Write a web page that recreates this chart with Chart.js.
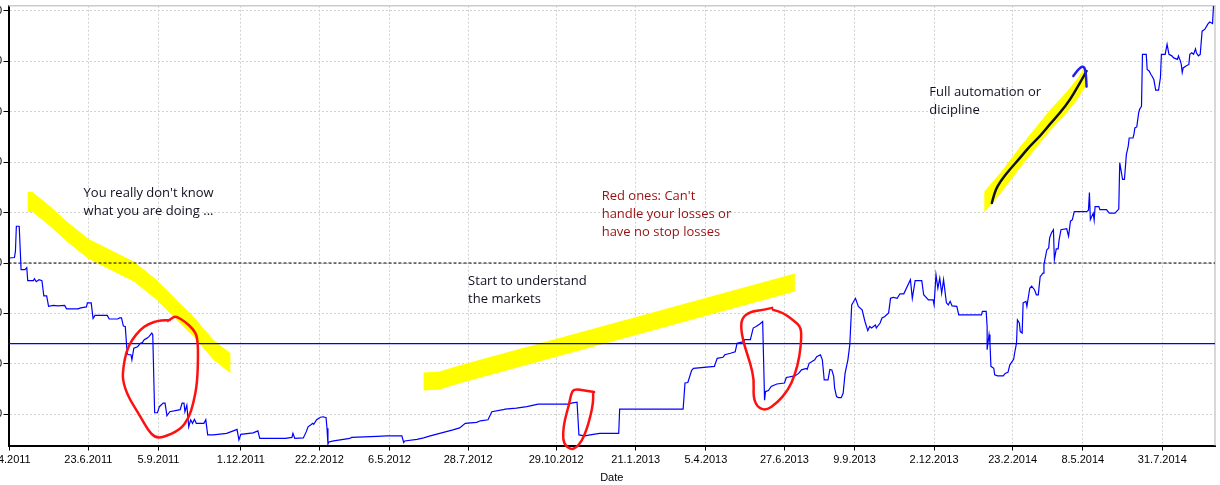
<!DOCTYPE html>
<html lang="en">
<head>
<meta charset="UTF-8">
<title>Equity curve</title>
<script src="https://cdn.jsdelivr.net/npm/chart.js"></script>
<style>
  html, body { margin: 0; padding: 0; background: #fff; overflow: hidden; }
  /* y tick labels sit off the left edge, like the cropped screenshot */
  #wrap { position: absolute; left: -52px; top: 0; width: 1272px; height: 485px; }
</style>
</head>
<body>
<div id="wrap"><canvas id="myChart" width="1272" height="485"></canvas></div>
<script>
// ---- data ----
// day numbers count from this date
var startDate = '1.4.2011';

var xTickLabels = ['1.4.2011', '23.6.2011', '5.9.2011', '1.12.2011', '22.2.2012', '6.5.2012',
    '28.7.2012', '29.10.2012', '21.1.2013', '5.4.2013', '27.6.2013', '9.9.2013',
    '2.12.2013', '23.2.2014', '8.5.2014', '31.7.2014'];

var yTicks = [7000, 8000, 9000, 10000, 11000, 12000, 13000, 14000, 15000];

var dayNumbers = [
    0, 5, 6, 7, 10, 12, 16, 18, 19, 25,
    26, 28, 31, 34, 36, 39, 41, 46, 51, 58,
    60, 72, 75, 81, 82, 86, 88, 90, 103, 105,
    114, 116, 118, 120, 122, 124, 125, 128, 129, 131,
    135, 138, 140, 142, 145, 147, 150, 151, 153, 156,
    158, 162, 164, 166, 169, 180, 182, 184, 185, 187,
    189, 191, 193, 195, 197, 205, 207, 209, 215, 229,
    236, 240, 242, 244, 257, 262, 264, 291, 298, 299,
    301, 310, 313, 315, 318, 320, 321, 324, 328, 331,
    334, 335, 336, 337, 342, 349, 359, 361, 388, 398,
    414, 416, 417, 430, 437, 444, 458, 468, 475, 481,
    493, 497, 505, 509, 521, 523, 535, 546, 558, 590,
    593, 599, 601, 607, 616, 623, 643, 644, 711, 713,
    716, 720, 722, 744, 747, 753, 755, 761, 766, 768,
    775, 776, 782, 785, 788, 792, 795, 797, 798, 801,
    804, 810, 818, 820, 829, 833, 836, 841, 842, 844,
    850, 852, 856, 858, 860, 864, 866, 868, 870, 871,
    873, 875, 878, 880, 882, 885, 887, 889, 893, 896,
    900, 903, 906, 908, 910, 914, 915, 919, 921, 924,
    928, 930, 933, 937, 940, 944, 951, 953, 956, 963,
    965, 970, 975, 976, 978, 980, 982, 984, 986, 989,
    991, 993, 995, 1000, 1002, 1026, 1027, 1031, 1032, 1032,
    1034, 1035, 1036, 1039, 1040, 1043, 1049, 1051, 1054, 1056,
    1060, 1061, 1063, 1064, 1066, 1067, 1069, 1070, 1073, 1074,
    1077, 1079, 1082, 1084, 1086, 1088, 1091, 1092, 1095, 1097,
    1098, 1100, 1102, 1103, 1105, 1107, 1108, 1110, 1116, 1118,
    1120, 1122, 1124, 1137, 1139, 1140, 1141, 1144, 1145, 1146,
    1150, 1151, 1158, 1161, 1167, 1171, 1172, 1175, 1177, 1179,
    1181, 1182, 1186, 1187, 1188, 1190, 1192, 1193, 1195, 1196,
    1200, 1201, 1203, 1205, 1206, 1208, 1210, 1213, 1215, 1216,
    1220, 1222, 1224, 1227, 1229, 1233, 1234, 1236, 1237, 1238,
    1239, 1242, 1245, 1246, 1248, 1250, 1252, 1253, 1255, 1257,
    1259, 1262, 1265, 1267, 1270, 1271
];

var equity = [
    10100, 10110, 10230, 10730, 10730, 9870, 9870, 9910, 9650, 9650,
    9690, 9630, 9670, 9650, 9350, 9350, 9140, 9160, 9150, 9160,
    9090, 9090, 9110, 9130, 9210, 9210, 8900, 8960, 8960, 8890,
    8890, 8910, 8910, 8750, 8740, 8210, 8180, 8180, 8080, 8310,
    8340, 8410, 8420, 8480, 8510, 8540, 8610, 8580, 7030, 7030,
    7150, 7220, 7220, 6970, 7050, 7090, 7220, 7220, 7050, 7180,
    6750, 6890, 6820, 6900, 6820, 6820, 6890, 6590, 6590, 6620,
    6670, 6700, 6490, 6600, 6630, 6670, 6520, 6520, 6540, 6620,
    6520, 6530, 6650, 6750, 6790, 6820, 6800, 6890, 6940, 6950,
    6930, 6720, 6410, 6450, 6470, 6490, 6520, 6540, 6560, 6570,
    6570, 6440, 6470, 6500, 6530, 6570, 6640, 6690, 6730, 6820,
    6840, 6870, 6890, 7050, 7090, 7100, 7120, 7150, 7200, 7200,
    7220, 7240, 6590, 6570, 6600, 6620, 6620, 7100, 7100, 7620,
    7630, 7870, 7910, 7950, 8110, 8130, 8180, 8210, 8240, 8410,
    8440, 8480, 8480, 8710, 8740, 8790, 8840, 7280, 7450, 7470,
    7550, 7600, 7620, 7730, 7760, 7810, 7880, 7910, 7890, 8010,
    8080, 8140, 8180, 8080, 7680, 7680, 7890, 7880, 7750, 7520,
    7350, 7330, 7330, 7420, 7810, 8080, 8380, 9170, 9300, 9140,
    9070, 8840, 8660, 8740, 8710, 8770, 8710, 8810, 8910, 8940,
    9010, 9300, 9320, 9300, 9390, 9390, 9670, 9300, 9650, 9650,
    9370, 9270, 9270, 9170, 9770, 9500, 9700, 9400, 9670, 9210,
    9170, 9240, 9150, 9140, 8970, 8970, 9040, 9040, 8740, 8280,
    8580, 8410, 7950, 7910, 7780, 7760, 7760, 7810, 7830, 7980,
    8090, 8210, 8410, 8870, 8810, 8640, 8610, 9210, 9240, 9140,
    9500, 9540, 9470, 9370, 9370, 9730, 9800, 9970, 10260, 10300,
    10500, 10600, 10660, 10070, 10280, 10280, 10460, 10660, 10680, 10530,
    10830, 10860, 11020, 11020, 11050, 11400, 10860, 10990, 10850, 11120,
    11120, 11060, 11060, 10990, 10990, 11070, 11990, 11660, 11660, 12150,
    12320, 12480, 12480, 12550, 12680, 12700, 12980, 13050, 13110, 14140,
    14140, 13840, 13810, 13740, 13710, 13640, 13430, 13430, 13680, 14140,
    14140, 14340, 14140, 14110, 14070, 14040, 14110, 14010, 13940, 13780,
    13870, 13910, 13940, 14140, 14170, 14140, 14250, 14170, 14110, 14140,
    14600, 14640, 14740, 14780, 14750, 15100
];

var startBalance = 10000;   // dashed black line
var blueLevel = 8400;       // solid blue line

// ---- hand drawn notes, in [day, value] ----
var yellowMarks = [
    { edge: [[19, 11410], [24, 11410], [43, 11120], [60, 10830], [83, 10480], [113, 10200],
             [131, 10030], [155, 9670], [176, 9270], [194, 8940], [215, 8480], [233, 8210]], h: 20 },
    { edge: [[437, 7830], [454, 7850], [470, 7940], [483, 8010], [829, 9790]], h: 18 },
    { edge: [[1029, 11420], [1046, 11790], [1067, 12310], [1098, 13030], [1116, 13400],
             [1128, 13680], [1136, 13920]], h: 21 }
];
var blackPen = [[1037, 11190], [1040, 11420], [1046, 11620], [1056, 11860], [1067, 12090],
    [1077, 12320], [1088, 12520], [1098, 12750], [1109, 12980], [1120, 13250], [1127, 13480],
    [1132, 13640], [1137, 13810]];
var bluePen = [[1123, 13710], [1128, 13840], [1133, 13910], [1136, 13840], [1137, 13500]];
var redCircles = [
    [[169, 8870], [159, 8870], [146, 8790], [138, 8680], [129, 8480], [123, 8240], [120, 7940],
     [119, 7680], [125, 7350], [138, 6950], [146, 6690], [153, 6540], [162, 6540], [180, 6690],
     [189, 6920], [194, 7220], [198, 7620], [199, 8210], [198, 8540], [194, 8680], [185, 8840],
     [176, 8940], [173, 8930], [167, 8850]],
    [[617, 7440], [608, 7470], [596, 7500], [593, 7420], [590, 7150], [586, 6890], [584, 6620],
     [585, 6410], [592, 6300], [598, 6330], [604, 6470], [609, 6690], [613, 6950], [616, 7220],
     [616, 7400]],
    [[805, 9110], [796, 9070], [782, 9040], [773, 8910], [772, 8680], [776, 8340], [782, 8010],
     [786, 7680], [785, 7350], [789, 7150], [798, 7070], [810, 7220], [822, 7480], [829, 7780],
     [834, 8140], [836, 8540], [835, 8740], [827, 8870], [817, 9010], [806, 9070]]
];
var notes = [
    { at: [78, 11380], color: '#111122', lines: ["You really don't know", 'what you are doing ...'] },
    { at: [625, 11320], color: '#990f0f', lines: ["Red ones: Can't", 'handle your losses or', 'have no stop losses'] },
    { at: [484, 9630], color: '#111122', lines: ['Start to understand', 'the markets'] },
    { at: [971, 13380], color: '#111122', lines: ['Full automation or', 'dicipline'] }
];

// d.m.yyyy -> days after startDate
function f_days(p_str) {
    var a = p_str.split('.'), b = startDate.split('.');
    return (Date.UTC(+a[2], a[1] - 1, +a[0]) - Date.UTC(+b[2], b[1] - 1, +b[0])) / 86400000;
}
var xTickDays = xTickLabels.map(f_days);

var points = dayNumbers.map(function (d, i) { return { x: d, y: equity[i] }; });

function f_path(c, pts, smooth) {
    c.beginPath();
    c.moveTo(pts[0][0], pts[0][1]);
    if (!smooth) {
        for (var i = 1; i < pts.length; i++) c.lineTo(pts[i][0], pts[i][1]);
        return;
    }
    for (var j = 1; j < pts.length - 1; j++) {
        var mx = (pts[j][0] + pts[j + 1][0]) / 2, my = (pts[j][1] + pts[j + 1][1]) / 2;
        c.quadraticCurveTo(pts[j][0], pts[j][1], mx, my);
    }
    var last = pts[pts.length - 1];
    c.lineTo(last[0], last[1]);
}

var notesPlugin = {
    id: 'notes',
    beforeDatasetsDraw: function (chart) {
        var c = chart.ctx, sx = chart.scales.x, sy = chart.scales.y, a = chart.chartArea;
        function px(p) { return [sx.getPixelForValue(p[0]), sy.getPixelForValue(p[1])]; }
        c.save();
        // light frame on top and right
        c.strokeStyle = '#cccccc';
        c.lineWidth = 1.5;
        c.beginPath();
        c.moveTo(a.left, a.top);
        c.lineTo(a.right, a.top);
        c.lineTo(a.right, a.bottom);
        c.stroke();

        // highlighter strokes
        c.fillStyle = '#ffff00';
        yellowMarks.forEach(function (m) {
            var pts = m.edge.map(px);
            c.beginPath();
            pts.forEach(function (p, i) { if (i) c.lineTo(p[0], p[1]); else c.moveTo(p[0], p[1]); });
            for (var i = pts.length - 1; i >= 0; i--) c.lineTo(pts[i][0], pts[i][1] + m.h);
            c.closePath();
            c.fill();
        });

        // start balance, dashed
        var y0 = sy.getPixelForValue(startBalance);
        c.setLineDash([3, 2]);
        c.strokeStyle = '#000';
        c.lineWidth = 1;
        c.beginPath(); c.moveTo(a.left, y0); c.lineTo(a.right, y0); c.stroke();
        c.setLineDash([]);
        var y1 = sy.getPixelForValue(blueLevel);
        c.strokeStyle = '#0000ff';
        c.lineWidth = 1.3;
        c.beginPath(); c.moveTo(a.left, y1); c.lineTo(a.right, y1); c.stroke();
        c.restore();
    },
    afterDraw: function (chart) {
        var c = chart.ctx, sx = chart.scales.x, sy = chart.scales.y;
        function px(p) { return [sx.getPixelForValue(p[0]), sy.getPixelForValue(p[1])]; }
        c.save();
        c.lineJoin = 'round';
        c.lineCap = 'round';

        c.strokeStyle = '#111';
        c.lineWidth = 2.5;
        f_path(c, blackPen.map(px), true);
        c.stroke();

        c.strokeStyle = '#2020ee';
        c.lineWidth = 2.5;
        f_path(c, bluePen.map(px), true);
        c.stroke();

        c.strokeStyle = '#ff1010';
        c.lineWidth = 2.5;
        redCircles.forEach(function (r) {
            f_path(c, r.map(px), true);
            c.stroke();
        });

        c.font = '13px "Open Sans"';
        c.textAlign = 'left';
        c.textBaseline = 'middle';
        notes.forEach(function (n) {
            var p = px(n.at);
            c.fillStyle = n.color;
            n.lines.forEach(function (t, i) { c.fillText(t, p[0], p[1] + i * 18); });
        });
        c.restore();
    }
};

var axisFont = { family: 'Liberation Sans', size: 11 };

const ctx = document.getElementById('myChart').getContext('2d');
const myChart = new Chart(ctx, {
    type: 'line',
    data: {
        datasets: [{
            data: points,
            borderColor: '#0000ff',
            borderWidth: 1.2,
            pointRadius: 0,
            tension: 0,
            fill: false
        }]
    },
    options: {
        responsive: false,
        animation: false,
        devicePixelRatio: 1,
        layout: { padding: { top: 5.7, right: 5, bottom: 0, left: 0 } },
        plugins: { legend: { display: false }, tooltip: { enabled: false } },
        scales: {
            x: {
                type: 'linear',
                min: -1.3,
                max: 1272.6,
                afterBuildTicks: function (s) { s.ticks = xTickDays.map(function (v) { return { value: v }; }); },
                afterFit: function (s) { s.height = 39.5; s.paddingLeft = 0; s.paddingRight = 0; },
                ticks: {
                    autoSkip: false, maxRotation: 0, padding: 3, color: '#000', font: axisFont,
                    callback: function (v, i) { return xTickLabels[i]; }
                },
                grid: { color: '#d2d2d2', tickColor: '#000', tickLength: 5, lineWidth: 1 },
                border: { display: true, color: '#000', width: 2, dash: [2, 2] },
                title: { display: true, text: 'Date', color: '#000', font: axisFont, padding: { top: 0, bottom: 0 } }
            },
            y: {
                min: 6380,
                max: 15105,
                afterBuildTicks: function (s) { s.ticks = yTicks.map(function (v) { return { value: v }; }); },
                afterFit: function (s) { s.width = 60.5; s.paddingTop = 0; s.paddingBottom = 0; },
                ticks: { padding: 1.5, color: '#000', font: axisFont },
                grid: { color: '#d2d2d2', tickColor: '#000', tickLength: 5, lineWidth: 1 },
                border: { display: true, color: '#000', width: 2, dash: [2, 2] }
            }
        }
    },
    plugins: [notesPlugin]
});
</script>
</body>
</html>
